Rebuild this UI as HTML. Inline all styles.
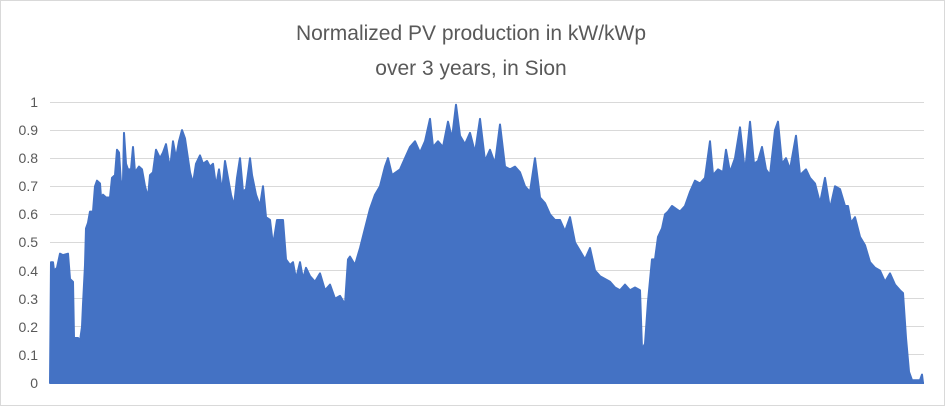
<!DOCTYPE html>
<html><head><meta charset="utf-8"><style>
body{margin:0;background:#fff;}
.c{position:relative;width:943px;height:404px;border:1px solid #d9d9d9;font-family:"Liberation Sans",sans-serif;}
</style></head><body><div class="c">
<svg width="943" height="404" viewBox="1 1 943 404" style="position:absolute;left:0;top:0">
<g font-family="Liberation Sans, sans-serif" fill="#595959">
<text x="471" y="40" font-size="21" text-anchor="middle">Normalized PV production in kW/kWp</text>
<text x="471" y="75" font-size="21" text-anchor="middle">over 3 years, in Sion</text>
<g font-size="14" text-anchor="end">
<text x="38" y="388">0</text><text x="38" y="360">0.1</text><text x="38" y="332">0.2</text><text x="38" y="304">0.3</text><text x="38" y="276">0.4</text><text x="38" y="247">0.5</text><text x="38" y="219">0.6</text><text x="38" y="191">0.7</text><text x="38" y="163">0.8</text><text x="38" y="135">0.9</text><text x="38" y="107">1</text>
</g></g>
<g stroke="#d9d9d9" stroke-width="1">
<line x1="50" x2="924" y1="102.5" y2="102.5"/><line x1="50" x2="924" y1="130.5" y2="130.5"/><line x1="50" x2="924" y1="158.5" y2="158.5"/><line x1="50" x2="924" y1="186.5" y2="186.5"/><line x1="50" x2="924" y1="214.5" y2="214.5"/><line x1="50" x2="924" y1="242.5" y2="242.5"/><line x1="50" x2="924" y1="270.5" y2="270.5"/><line x1="50" x2="924" y1="298.5" y2="298.5"/><line x1="50" x2="924" y1="326.5" y2="326.5"/><line x1="50" x2="924" y1="354.5" y2="354.5"/>
</g>
<polygon id="p" fill="#4472c4" stroke="#4472c4" stroke-width="2" stroke-linejoin="round"/>
<line x1="50" x2="924" y1="383" y2="383" stroke="#4472c4" stroke-width="2"/>
</svg>
<script>
var d=[50,0,51,.43,53,.43,54,.40,57,.41,60,.46,63,.455,68,.46,70,.37,73,.36,74,.16,78,.16,80,.15,82,.2,83,.28,85,.42,86,.55,88,.57,90,.61,93,.61,95,.7,97,.72,100,.71,101,.66,103,.67,106,.66,110,.66,112,.73,115,.74,117,.83,119,.82,121,.71,123,.72,124,.89,126,.78,128,.76,131,.76,133,.84,135,.75,139,.77,142,.76,145,.70,148,.66,150,.74,153,.75,156,.83,160,.80,163,.82,166,.85,170,.76,173,.86,176,.80,179,.86,182,.90,185,.87,190,.75,193,.71,196,.78,200,.81,203,.78,207,.79,210,.77,213,.78,216,.70,219,.76,222,.68,225,.79,228,.73,231,.67,234,.63,237,.73,240,.80,243,.68,246,.69,250,.80,252,.74,256,.67,260,.63,263,.70,266,.59,270,.58,273,.49,277,.58,280,.58,283,.58,286,.44,290,.42,293,.43,296,.37,300,.43,303,.37,306,.41,310,.38,315,.36,320,.39,325,.33,330,.35,335,.30,340,.31,345,.28,348,.44,350,.45,355,.42,360,.48,365,.55,370,.62,375,.67,380,.70,385,.77,388,.80,392,.74,400,.76,405,.80,410,.84,415,.86,420,.82,425,.86,430,.94,433,.84,438,.86,443,.84,448,.93,452,.87,456,.99,460,.88,465,.85,470,.89,475,.82,480,.94,485,.79,490,.83,495,.78,500,.92,505,.77,510,.76,515,.77,520,.75,525,.70,530,.68,535,.80,540,.66,545,.64,550,.60,555,.58,560,.58,565,.54,570,.59,575,.50,580,.47,585,.44,590,.48,595,.40,600,.38,605,.37,610,.36,615,.34,620,.33,625,.35,630,.33,635,.34,640,.33,642,.12,645,.14,648,.29,652,.44,655,.44,658,.52,662,.55,665,.60,668,.61,672,.63,676,.62,680,.61,685,.63,690,.68,695,.72,700,.71,705,.73,710,.86,713,.74,718,.76,723,.75,726,.83,730,.75,735,.80,740,.91,745,.75,750,.93,754,.78,758,.79,762,.84,766,.76,770,.74,775,.90,778,.93,782,.78,786,.80,790,.76,796,.88,800,.74,806,.76,810,.73,815,.71,820,.64,825,.73,830,.62,835,.70,840,.69,845,.63,848,.63,851,.57,855,.59,860,.52,865,.49,870,.43,875,.41,880,.40,885,.36,890,.39,895,.35,900,.33,903,.32,906,.16,909,.04,912,.01,920,.01,922,.03,923,0];
var s=[];for(var i=0;i<d.length;i+=2)s.push(d[i]+","+(383-d[i+1]*281).toFixed(1));
document.getElementById("p").setAttribute("points",s.join(" "));
</script>
</div></body></html>
